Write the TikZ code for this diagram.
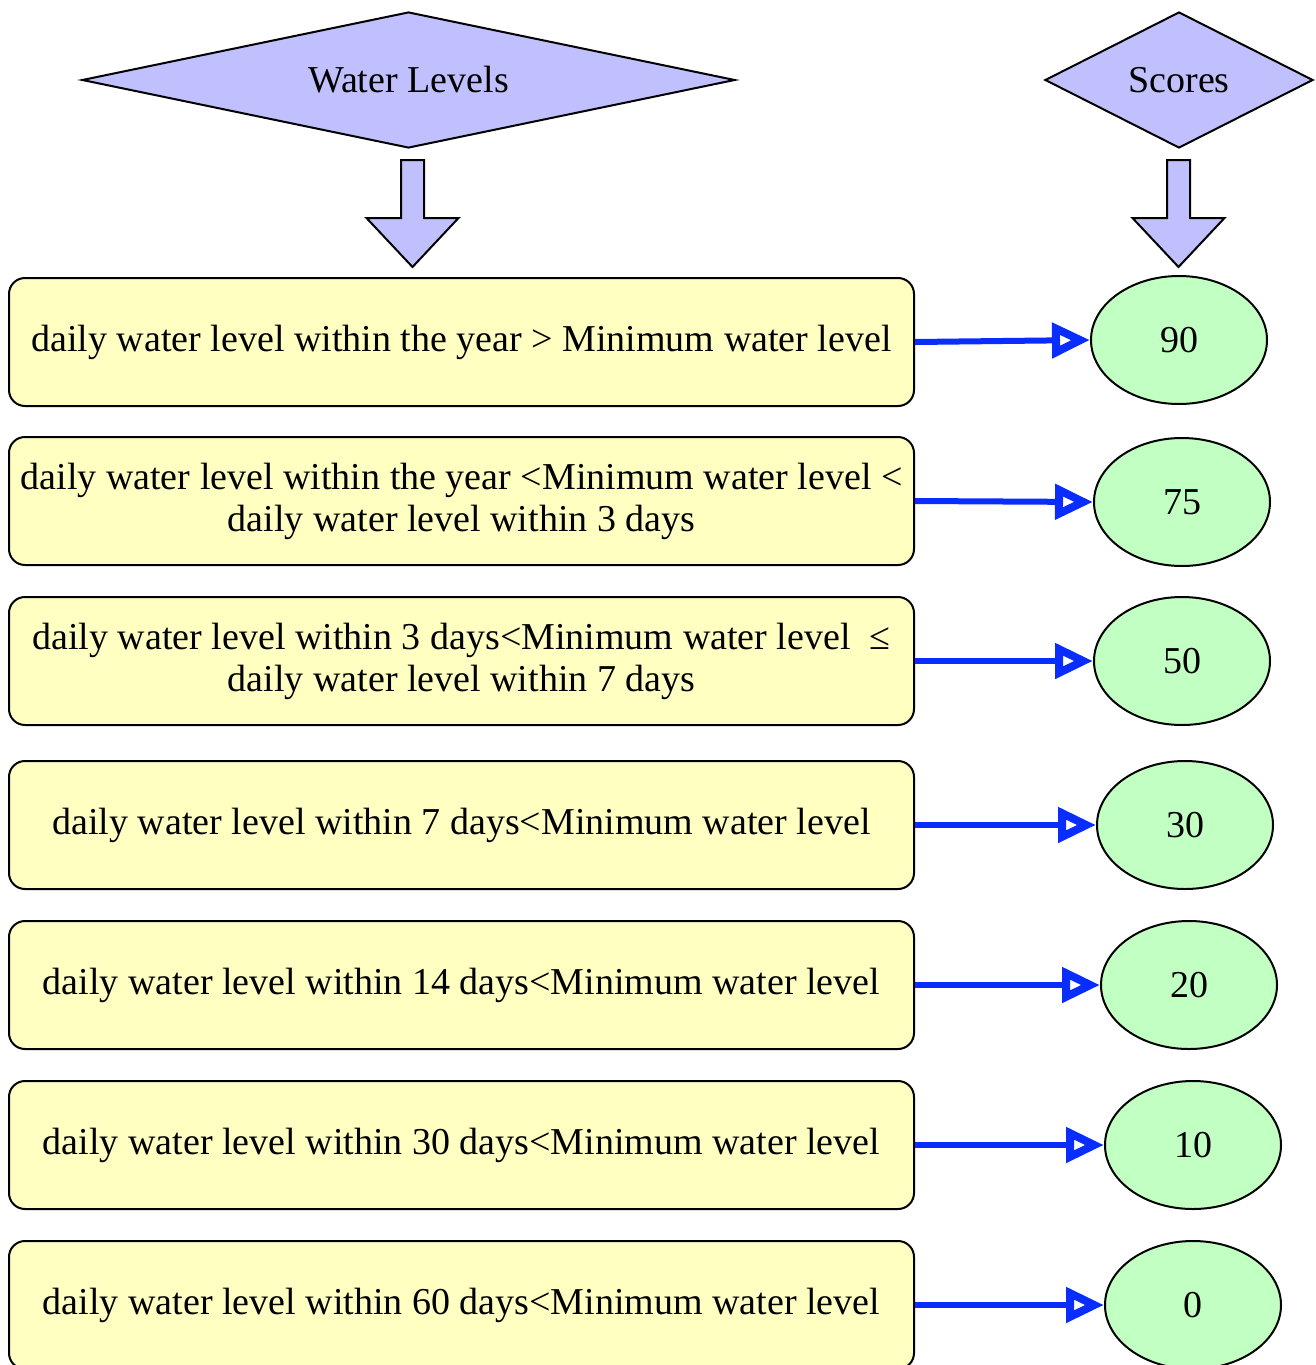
\documentclass[tikz,border=0pt]{standalone}
\usepackage{fontspec}
\setmainfont{Liberation Serif}
\usetikzlibrary{shapes.geometric,arrows.meta,calc}
\definecolor{boxfill}{HTML}{FFFFC2}
\definecolor{ellfill}{HTML}{C2FFC2}
\definecolor{diafill}{HTML}{C0C0FF}
\definecolor{arrblue}{HTML}{0A2DFF}
\begin{document}
\begin{tikzpicture}[x=1pt,y=-1pt,
  every node/.style={font=\fontsize{38}{42}\selectfont},
  cond/.style={draw=black,line width=2pt,fill=boxfill,rounded corners=16pt,
    minimum width=905pt,minimum height=128pt,align=center,inner sep=0pt},
  score/.style={draw=black,line width=2pt,fill=ellfill,ellipse,
    minimum width=176pt,minimum height=128pt,inner sep=0pt},
  head/.style={draw=black,line width=2pt,fill=diafill,diamond,inner sep=0pt},
  blockarrow/.style={draw=black,line width=2pt,fill=diafill,line join=miter},
  link/.style={draw=arrblue,line width=6pt,
    -{Triangle[length=38pt,width=34pt,line width=8pt,fill=white]}}
]
\useasboundingbox (0,0) rectangle (1316,1365);
% headers
\node[head,aspect=4.8,minimum width=653pt,minimum height=136pt] (wl) at (408.5,80) {Water Levels};
\node[head,aspect=1.97,minimum width=268pt,minimum height=136pt] (sc) at (1179,80) {Scores};
% condition boxes
\node[cond] (c1) at (461.5,342) {daily water level within the year > Minimum water level};
\node[cond] (c2) at (461.5,501) {daily water level within the year <Minimum water level <\\daily water level within 3 days};
\node[cond] (c3) at (461.5,661) {daily water level within 3 days<Minimum water level \ ≤\\daily water level within 7 days};
\node[cond] (c4) at (461.5,825) {daily water level within 7 days<Minimum water level};
\node[cond] (c5) at (461.5,985) {daily water level within 14 days<Minimum water level};
\node[cond] (c6) at (461.5,1145) {daily water level within 30 days<Minimum water level};
\node[cond] (c7) at (461.5,1305) {daily water level within 60 days<Minimum water level};
% scores
\node[score] (s1) at (1179,340) {90};
\node[score] (s2) at (1182,502) {75};
\node[score] (s3) at (1182,661) {50};
\node[score] (s4) at (1185,825) {30};
\node[score] (s5) at (1189,985) {20};
\node[score] (s6) at (1193,1145) {10};
\node[score] (s7) at (1193,1305) {0};
% block arrows
\coordinate (wa) at (412.5,160);
\coordinate (sa) at (1178.5,160);
\draw[blockarrow] (wa) ++(-11.5,0) -- ++(23,0) -- ++(0,58) -- ++(34.5,0)
  -- ++(-46,49) -- ++(-46,-49) -- ++(34.5,0) -- cycle;
\draw[blockarrow] (sa) ++(-11.5,0) -- ++(23,0) -- ++(0,58) -- ++(34.5,0)
  -- ++(-46,49) -- ++(-46,-49) -- ++(34.5,0) -- cycle;
% links
\foreach \i in {1,...,7}{
  \draw[link] (c\i.east) -- (s\i.west);
}
\end{tikzpicture}
\end{document}
